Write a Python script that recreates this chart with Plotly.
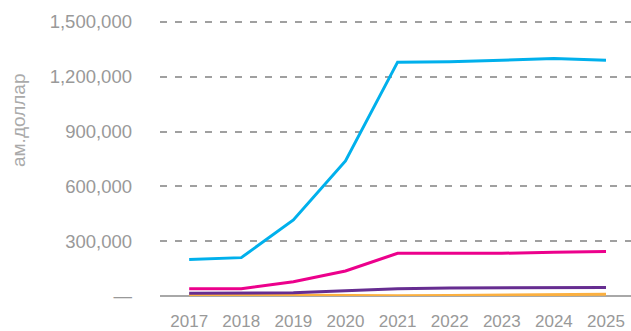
import plotly.graph_objects as go

years = ["2017", "2018", "2019", "2020", "2021", "2022", "2023", "2024", "2025"]
blue_vals = [200000, 210000, 416000, 739000, 1280000, 1282000, 1290000, 1300000, 1290000]
pink_vals = [40000, 40000, 78000, 137000, 234000, 234000, 234000, 239000, 243000]
purple_vals = [15000, 15000, 18000, 29000, 40000, 44000, 46000, 46000, 47000]
orange_vals = [8000, 6000, 4000, 2000, 1000, 3000, 6000, 8000, 10000]

tick_vals = [0, 300000, 600000, 900000, 1200000, 1500000]
tick_text = ["—", "300,000", "600,000", "900,000", "1,200,000", "1,500,000"]
y_title = "ам.доллар"

x_num = [int(y) for y in years]

fig = go.Figure()
series = [
    (orange_vals, "#FBB040"),
    (purple_vals, "#662D91"),
    (pink_vals, "#EC008C"),
    (blue_vals, "#00B0EC"),
]
for vals, col in series:
    fig.add_trace(go.Scatter(x=x_num, y=vals, mode="lines",
                             line=dict(color=col, width=3), showlegend=False))

font_col = "#999999"
fig.update_layout(
    width=631, height=331,
    margin=dict(l=160, r=0, t=11, b=35),
    plot_bgcolor="white", paper_bgcolor="white",
    font=dict(family="Liberation Sans", size=17, color=font_col),
    xaxis=dict(range=[2016.44, 2025.48], tickvals=x_num, ticktext=years,
               showgrid=False, zeroline=False, showline=False, automargin=False,
               ticks="outside", ticklen=10, tickcolor="rgba(0,0,0,0)",
               tickfont=dict(size=17, color=font_col)),
    yaxis=dict(range=[0, 1560000], tickvals=tick_vals, ticktext=tick_text,
               showgrid=True, gridcolor="#A0A0A0", gridwidth=1.5,
               griddash="7px,8px", automargin=False,
               zeroline=True, zerolinecolor="#A8A8A8", zerolinewidth=2,
               showline=False, ticklabelstandoff=27,
               tickfont=dict(size=18.5, color=font_col)),
    annotations=[dict(text=y_title, textangle=-90, showarrow=False,
                      xref="paper", yref="paper", x=-0.3015, y=0.6175,
                      xanchor="center", yanchor="middle",
                      font=dict(family="Liberation Sans", size=19, color="#AAAAAA"))],
)
fig.write_html("out.html")
